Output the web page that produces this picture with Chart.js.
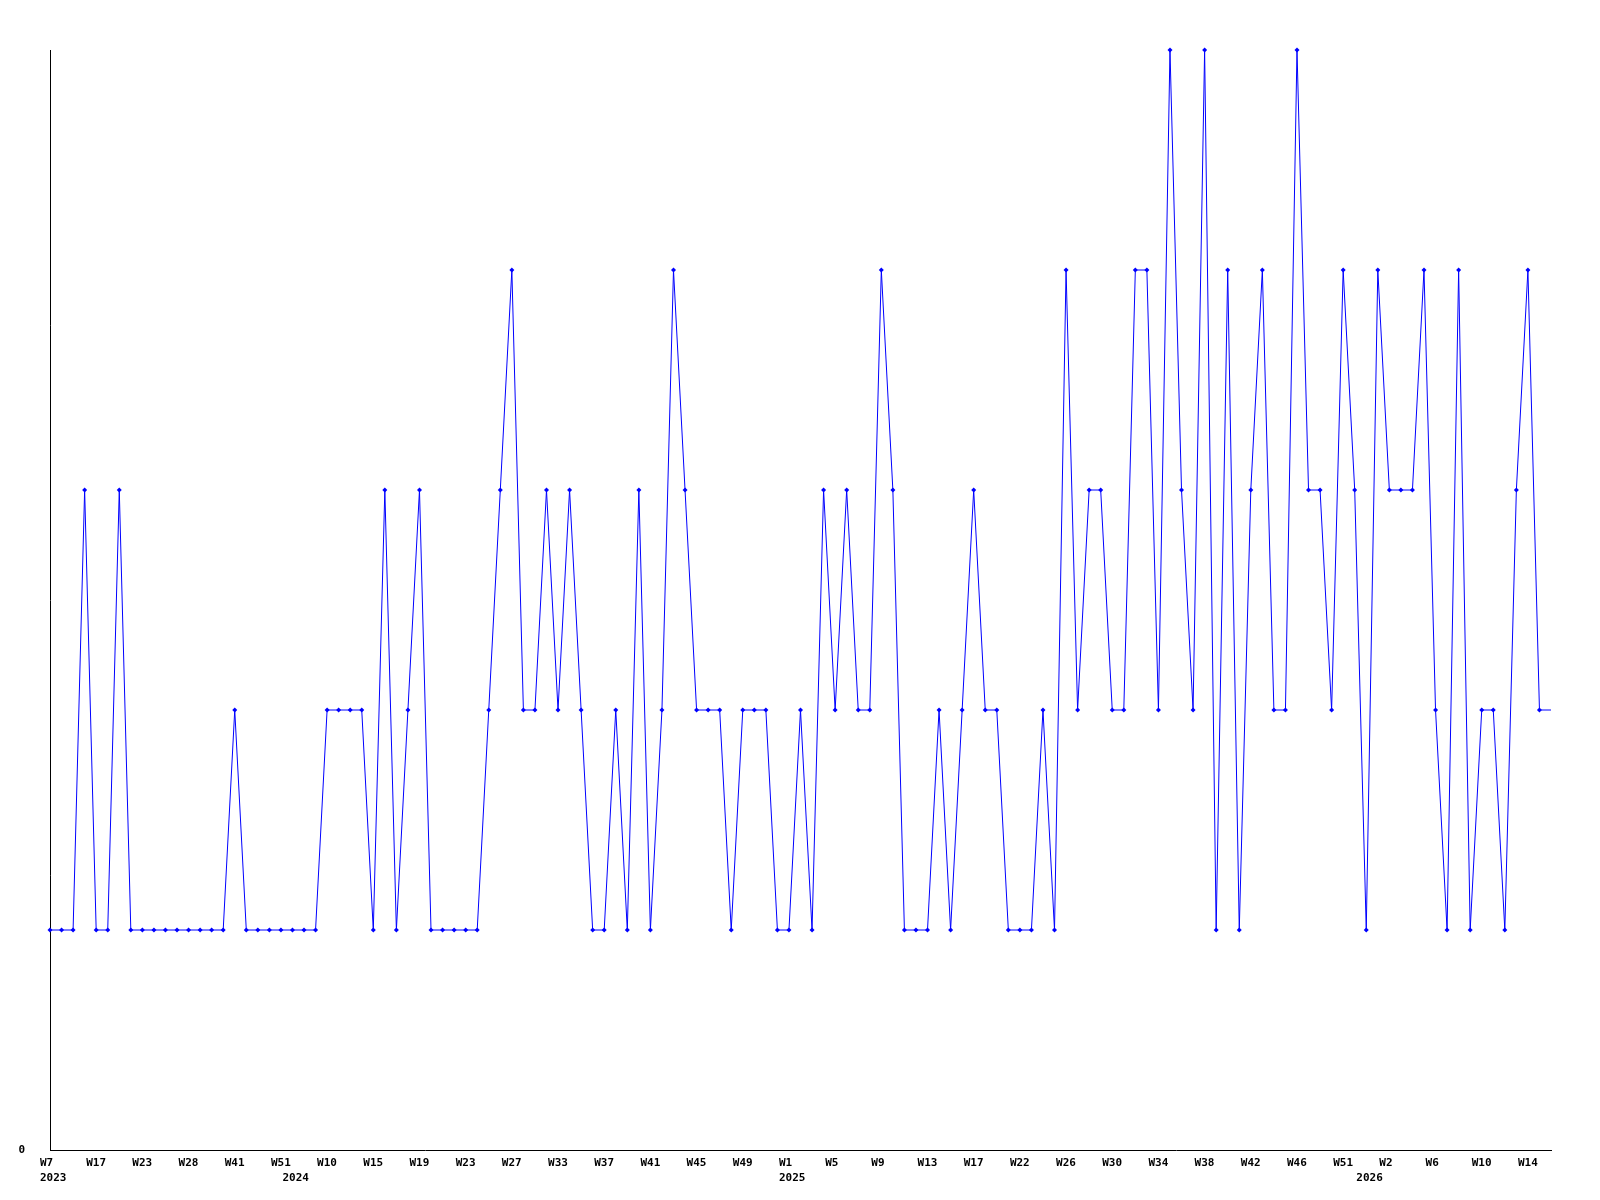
<!DOCTYPE html>
<html>
<head>
<meta charset="utf-8">
<script src="https://cdn.jsdelivr.net/npm/chart.js@4.4.1/dist/chart.umd.min.js"></script>
<style>
  html, body { margin: 0; padding: 0; background: #ffffff; }
  #wrap { width: 1600px; height: 1200px; position: relative; }
</style>
</head>
<body>
<div id="wrap"><canvas id="c" width="1600" height="1200"></canvas></div>
<script>
// Week categories per year (only every 4th is labelled on the axis)
const weeks2023 = [7,10,13,15,17,18,20,21,23,24,25,27,28,31,35,38,41,43,46,48,51];
const weeks2024 = [2,5,7,10,11,12,13,15,16,17,18,19,20,21,22,23,24,25,26,27,29,
                   31,32,33,34,35,36,37,38,39,40,41,42,43,44,45,46,47,48,49,50,51,52];
const weeks2025 = [1,2,3,4,5,6,7,8,9,10,11,12,13,14,15,16,17,19,20,21,22,23,24,25,
                   26,27,28,29,30,31,32,33,34,35,36,37,38,39,40,41,42,43,44,45,46,47,
                   49,50,51,52];
const weeks2026 = [0,1,2,3,4,5,6,7,8,9,10,11,12,13,14,15,16];

const weekGroups = [[2023, weeks2023], [2024, weeks2024], [2025, weeks2025], [2026, weeks2026]];
const years = [];
const weeks = [];
weekGroups.forEach(([y, ws]) => ws.forEach(w => { years.push(y); weeks.push(w); }));
const categories = weeks.map((w, i) => 'W' + w + ' ' + years[i]);

// Series values
const values = [
  1,1,1,3,1,1,3,1,1,1,1,1,1,1,1,1,
  2,1,1,1,1,1,1,1,2,2,2,2,1,3,1,2,
  3,1,1,1,1,1,2,3,4,2,2,3,2,3,2,1,
  1,2,1,3,1,2,4,3,2,2,2,1,2,2,2,1,
  1,2,1,3,2,3,2,2,4,3,1,1,1,2,1,2,
  3,2,2,1,1,1,2,1,4,2,3,3,2,2,4,4,
  2,5,3,2,5,1,4,1,3,4,2,2,5,3,3,2,
  4,3,1,4,3,3,3,4,2,1,4,1,2,2,1,3,
  4,2,2
];

// Y tick labels shown
const yTickLabels = { 0: '0' };

const FONT = { family: '"DejaVu Sans Mono", "Liberation Mono", monospace', size: 11, weight: 'bold', lineHeight: 15/11 };

new Chart(document.getElementById('c'), {
  type: 'line',
  data: {
    labels: categories,
    datasets: [{
      data: values,
      borderColor: '#0000ff',
      borderWidth: 1,
      backgroundColor: '#0000ff',
      pointBackgroundColor: '#0000ff',
      pointBorderWidth: 0,
      pointStyle: 'rectRot',
      pointRadius: (ctx) => ctx.dataIndex === values.length - 1 ? 0 : 2.5,
      tension: 0,
      fill: false,
      clip: false
    }]
  },
  options: {
    responsive: false,
    animation: false,
    devicePixelRatio: 1,
    layout: { padding: { top: 50, right: 49, left: 0, bottom: 0 } },
    plugins: { legend: { display: false }, tooltip: { enabled: false } },
    scales: {
      x: {
        type: 'category',
        offset: false,
        grid: { display: false, drawTicks: false },
        border: { display: true, color: '#000000', width: 1 },
        ticks: {
          autoSkip: false,
          maxRotation: 0,
          minRotation: 0,
          align: 'start',
          labelOffset: -10,
          padding: 6,
          color: '#000000',
          font: FONT,
          callback: function(v, i) {
            const wk = (i % 4 === 0) ? 'W' + weeks[i] : '';
            const firstOfYear = (i === 0) || years[i] !== years[i - 1];
            if (firstOfYear) return [wk, String(years[i])];
            return wk;
          }
        },
        afterFit: (s) => { s.height = 50; }
      },
      y: {
        min: 0,
        max: 5,
        grid: { display: false, drawTicks: false },
        border: { display: true, color: '#000000', width: 1 },
        ticks: {
          stepSize: 1,
          padding: 25,
          color: '#000000',
          font: FONT,
          callback: (v) => (yTickLabels[v] !== undefined ? yTickLabels[v] : '')
        },
        afterFit: (s) => { s.width = 50; }
      }
    }
  }
});
</script>
</body>
</html>
